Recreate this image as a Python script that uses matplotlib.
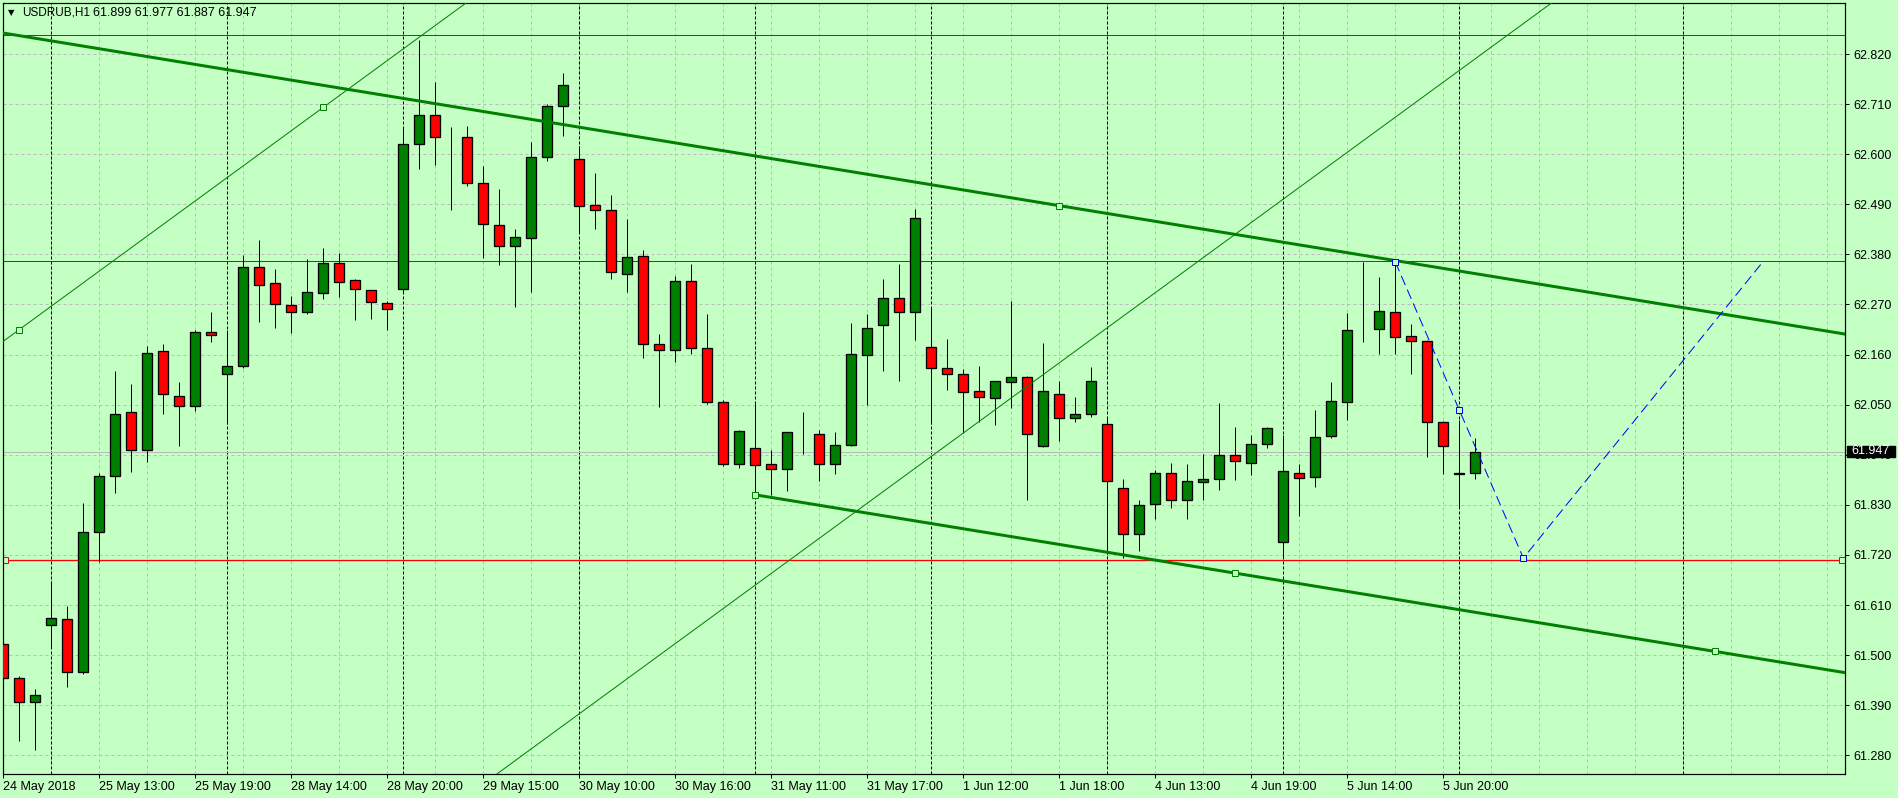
import matplotlib
matplotlib.use('Agg')
import matplotlib.pyplot as plt
from matplotlib.patches import Rectangle

# hourly candles, bar 0 = first visible bar
opens = [61.524, 61.449, 61.398, 61.566, 61.579, 61.462, 61.770, 61.893, 62.033, 61.951,
         62.167, 62.068, 62.046, 62.209, 62.117, 62.134, 62.352, 62.317, 62.268, 62.254,
         62.296, 62.360, 62.323, 62.301, 62.273, 62.303, 62.622, 62.685, 62.638, 62.637,
         62.536, 62.444, 62.398, 62.415, 62.593, 62.705, 62.589, 62.488, 62.477, 62.336,
         62.376, 62.183, 62.169, 62.321, 62.174, 62.055, 61.919, 61.954, 61.919, 61.908,
         61.987, 61.985, 61.919, 61.961, 62.158, 62.226, 62.284, 62.253, 62.176, 62.130,
         62.117, 62.079, 62.064, 62.099, 62.110, 61.959, 62.073, 62.020, 62.029, 62.007,
         61.866, 61.765, 61.831, 61.901, 61.840, 61.880, 61.886, 61.939, 61.921, 61.963,
         61.748, 61.901, 61.891, 61.981, 62.055, 62.214, 62.216, 62.253, 62.200, 62.189,
         62.012, 61.897, 61.899]
highs = [61.571, 61.454, 61.426, 61.658, 61.608, 61.833, 61.899, 62.124, 62.095, 62.179,
         62.183, 62.100, 62.215, 62.253, 62.214, 62.379, 62.412, 62.348, 62.289, 62.370,
         62.394, 62.383, 62.326, 62.302, 62.278, 62.658, 62.850, 62.759, 62.660, 62.662,
         62.573, 62.524, 62.435, 62.626, 62.710, 62.778, 62.617, 62.558, 62.510, 62.458,
         62.389, 62.205, 62.332, 62.358, 62.248, 62.060, 61.994, 62.051, 61.950, 61.990,
         62.033, 61.994, 61.989, 62.229, 62.248, 62.325, 62.358, 62.479, 62.262, 62.194,
         62.128, 62.136, 62.103, 62.277, 62.112, 62.185, 62.101, 62.066, 62.132, 62.024,
         61.886, 61.840, 61.906, 61.923, 61.919, 61.941, 62.053, 62.000, 61.983, 62.002,
         61.984, 61.919, 62.038, 62.099, 62.251, 62.364, 62.330, 62.363, 62.228, 62.191,
         62.015, 62.016, 61.977]
lows = [61.359, 61.312, 61.292, 61.516, 61.431, 61.458, 61.705, 61.857, 61.903, 61.925,
        62.030, 61.960, 62.036, 62.188, 62.007, 62.131, 62.232, 62.219, 62.207, 62.250,
        62.283, 62.287, 62.237, 62.239, 62.215, 62.298, 62.568, 62.577, 62.478, 62.531,
        62.373, 62.357, 62.264, 62.298, 62.584, 62.641, 62.428, 62.436, 62.325, 62.297,
        62.153, 62.044, 62.143, 62.161, 62.051, 61.915, 61.910, 61.853, 61.851, 61.860,
        61.941, 61.882, 61.897, 61.959, 62.049, 62.125, 62.103, 62.193, 62.007, 62.082,
        61.987, 62.013, 62.005, 62.042, 61.840, 61.958, 61.970, 62.013, 62.022, 61.722,
        61.713, 61.728, 61.798, 61.822, 61.798, 61.840, 61.862, 61.884, 61.895, 61.954,
        61.716, 61.806, 61.869, 61.976, 62.017, 62.187, 62.161, 62.162, 62.118, 61.936,
        61.897, 61.822, 61.887]
closes = [61.449, 61.398, 61.412, 61.581, 61.462, 61.770, 61.893, 62.029, 61.951, 62.163,
          62.073, 62.046, 62.209, 62.202, 62.134, 62.352, 62.313, 62.270, 62.253, 62.297,
          62.360, 62.320, 62.303, 62.275, 62.259, 62.622, 62.685, 62.637, 62.638, 62.536,
          62.446, 62.398, 62.418, 62.593, 62.705, 62.753, 62.486, 62.477, 62.341, 62.374,
          62.183, 62.169, 62.321, 62.174, 62.055, 61.919, 61.992, 61.917, 61.908, 61.989,
          61.987, 61.919, 61.961, 62.161, 62.218, 62.284, 62.253, 62.459, 62.130, 62.117,
          62.077, 62.066, 62.101, 62.110, 61.985, 62.079, 62.020, 62.029, 62.101, 61.882,
          61.765, 61.829, 61.899, 61.840, 61.882, 61.886, 61.939, 61.926, 61.963, 61.998,
          61.904, 61.888, 61.978, 62.057, 62.213, 62.214, 62.255, 62.198, 62.189, 62.011,
          61.959, 61.901, 61.947]

tick_bars = [0, 6, 12, 18, 24, 30, 36, 42, 48, 54, 60, 66, 72, 78, 84, 90]
tick_labels = ['24 May 2018', '25 May 13:00', '25 May 19:00', '28 May 14:00',
               '28 May 20:00', '29 May 15:00', '30 May 10:00', '30 May 16:00',
               '31 May 11:00', '31 May 17:00', '1 Jun 12:00', '1 Jun 18:00',
               '4 Jun 13:00', '4 Jun 19:00', '5 Jun 14:00', '5 Jun 20:00']
day_breaks = [3, 14, 25, 36, 47, 58, 69, 80, 91, 105]
price_ticks = [62.820, 62.710, 62.600, 62.490, 62.380, 62.270, 62.160, 62.050,
               61.940, 61.830, 61.720, 61.610, 61.500, 61.390, 61.280]

# objects drawn on the chart
red_levels = [62.862, 62.365]
support_level = 61.708
bid = 61.947
upper_chan_x = [0, 66]
upper_chan_y = [62.866, 62.487]
lower_chan_x = [47, 77, 107]
lower_chan_y = [61.852, 61.680, 61.508]
thin_x = [1, 20]
thin_y = [62.215, 62.703]
thin_parallel = (50, 61.731)
blue_x = [87, 91, 95, 110]
blue_y = [62.363, 62.038, 61.713, 62.365]

bg = '#c4ffc4'
W, H = 1898, 798
x0, x1 = -0.04, 115.12
y0, y1 = 61.239, 62.932
px = 0.72  # one pixel in points

plt.rcParams['font.family'] = ['Liberation Sans', 'DejaVu Sans']
fig = plt.figure(figsize=(W / 100, H / 100), dpi=100, facecolor=bg)
ax = fig.add_axes([2.7 / W, 24 / H, (1845.3 - 2.7) / W, 771 / H], facecolor=bg)
ax.set_xlim(x0, x1)
ax.set_ylim(y0, y1)

# grid
for p in price_ticks:
    ax.axhline(p, color='#c0b8c0', lw=px, ls=(0, (3, 3)), zorder=0)
for b in range(0, 116, 3):
    ax.axvline(b, color='#c0b8c0', lw=px, ls=(0, (3, 3)), zorder=0)
for b in day_breaks:
    ax.axvline(b, color='black', lw=px, ls=(0, (3, 2)), zorder=1)

# horizontal levels
for lv in red_levels:
    ax.axhline(lv, color='#e00000', lw=px, zorder=2)
ax.axhline(bid, color='#b8b8b8', lw=px, zorder=2)
ax.plot([0.13, 114.9], [support_level, support_level], color='#ff0000', lw=1.3 * px,
        marker='s', ms=4, mfc=bg, mec='#ff0000', mew=px, zorder=2)

# candles
n = len(opens)
xs = list(range(n))
ax.vlines(xs, lows, highs, color='black', lw=px, zorder=3)
for i in range(n):
    o, c = opens[i], closes[i]
    col = '#008000' if c >= o else '#ff0000'
    h = abs(c - o)
    if h < 0.001:
        ax.bar(i, 0.0004, bottom=o - 0.0002, width=0.66, color='black', zorder=4)
    else:
        ax.bar(i, h, bottom=min(o, c), width=0.625, color=col, edgecolor='black',
               linewidth=px * 1.3, zorder=4)

# upper channel line, extended across the chart
s = (upper_chan_y[1] - upper_chan_y[0]) / (upper_chan_x[1] - upper_chan_x[0])
ax.plot([x0, x1], [upper_chan_y[0] + s * (x0 - upper_chan_x[0]),
                   upper_chan_y[0] + s * (x1 - upper_chan_x[0])],
        color='#008000', lw=3 * px, zorder=5)
ax.plot(upper_chan_x[1], upper_chan_y[1], 's', ms=4, mfc=bg, mec='#008000', mew=px, zorder=6)

# lower channel line from its first anchor
s2 = (lower_chan_y[-1] - lower_chan_y[0]) / (lower_chan_x[-1] - lower_chan_x[0])
ax.plot([lower_chan_x[0], x1], [lower_chan_y[0], lower_chan_y[0] + s2 * (x1 - lower_chan_x[0])],
        color='#008000', lw=3 * px, zorder=5)
ax.plot(lower_chan_x, lower_chan_y, 's', ms=4, mfc=bg, mec='#008000', mew=px, zorder=6)

# thin rising channel
s3 = (thin_y[1] - thin_y[0]) / (thin_x[1] - thin_x[0])
ax.plot([x0, x1], [thin_y[0] + s3 * (x0 - thin_x[0]), thin_y[0] + s3 * (x1 - thin_x[0])],
        color='#008000', lw=px, zorder=5)
ax.plot(thin_x, thin_y, 's', ms=4, mfc=bg, mec='#008000', mew=px, zorder=6)
bx, by = thin_parallel
ax.plot([x0, x1], [by + s3 * (x0 - bx), by + s3 * (x1 - bx)], color='#008000', lw=px, zorder=5)

# blue projection path
ax.plot(blue_x, blue_y, color='#0000ff', lw=px, ls=(0, (10, 5)), zorder=6)
ax.plot(blue_x[:3], blue_y[:3], 's', ms=4, mfc=bg, mec='#0000ff', mew=px, zorder=7)

# axes styling
for sp in ax.spines.values():
    sp.set_color('black')
    sp.set_linewidth(1.2 * px)
ax.yaxis.tick_right()
ax.set_yticks(price_ticks)
ax.set_yticklabels(['%.3f' % p for p in price_ticks])
ax.set_xticks(tick_bars)
ax.set_xticklabels(tick_labels)
for t in ax.get_xticklabels():
    t.set_ha('left')
ax.tick_params(axis='y', length=3, width=px, pad=2.5, labelsize=9, colors='black')
ax.tick_params(axis='x', length=3, width=px, pad=2, labelsize=9, colors='black')

# header text
fig.text(11 / W, 1 - 12.5 / H, '\u25bc', fontsize=6, va='center', ha='center',
         family='DejaVu Sans')
fig.text(21.7 / W, 1 - 12.8 / H, 'USDRUB,H1', fontsize=8.5, va='center')
fig.text(93.3 / W, 1 - 12.8 / H, '%.3f %.3f %.3f %.3f' % (opens[-1], highs[-1], lows[-1], closes[-1]),
         fontsize=9, va='center')

# current price tag
fig.add_artist(Rectangle((1846.7 / W, 1 - 457.3 / H), 48.3 / W, 11.6 / H,
                         transform=fig.transFigure, color='black', zorder=10))
fig.text(1851.5 / W, 1 - 451.5 / H, '%.3f' % bid, color='white', fontsize=9,
         va='center', zorder=11)

fig.savefig('out.png', dpi=100, facecolor=bg)
